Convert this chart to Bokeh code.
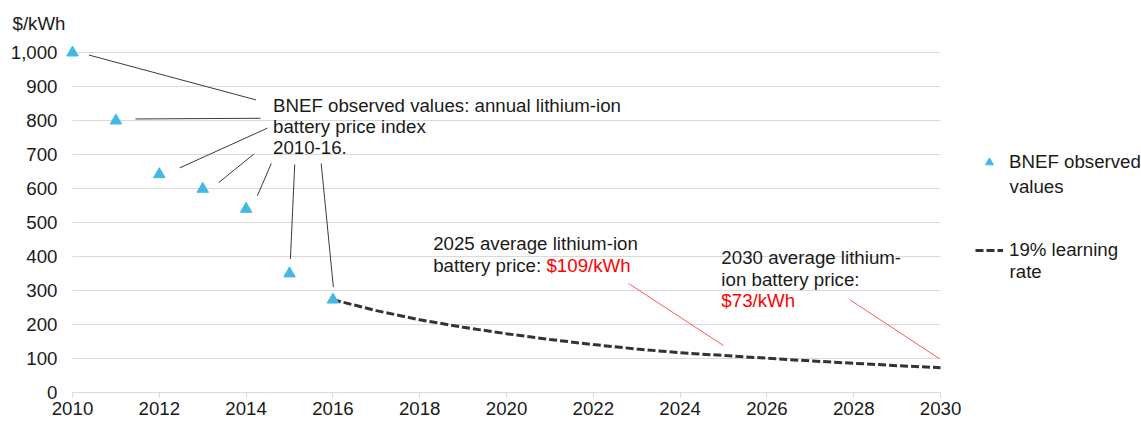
from bokeh.plotting import figure
from bokeh.models import (Range1d, NumeralTickFormatter, FixedTicker, Label, Legend,
                          LegendItem, Grid)
from bokeh.embed import file_html
from bokeh.resources import INLINE

# ---- data ----
obs_years = [2010, 2011, 2012, 2013, 2014, 2015, 2016]
obs_prices = [1000, 800, 642, 599, 540, 350, 273]

proj_years = [2016, 2017, 2018, 2019, 2020, 2021, 2022, 2023, 2024, 2025, 2026, 2027, 2028, 2029, 2030]
proj_prices = [273, 241, 214, 192, 173, 156, 141, 128, 117, 109, 101, 93, 86, 79, 73]

x_ticks = [2010, 2012, 2014, 2016, 2018, 2020, 2022, 2024, 2026, 2028, 2030]
y_ticks = [0, 100, 200, 300, 400, 500, 600, 700, 800, 900, 1000]

FONT = "Liberation Sans"
FS = "18.7px"
TXT = "#1a1a1a"
GRID = "#d9d9d9"
BLUE = "#44b8e2"
DARK = "#3a3a3a"
RED = "#ff0000"

# frame extends to the right edge so the legend area sits inside it;
# grid lines and the x axis are bounded to 2010-2030
p = figure(width=1141, height=423, output_backend="svg", toolbar_location=None,
           x_range=Range1d(2009.7, 2034.63), y_range=Range1d(0, 1030),
           min_border_left=59, min_border_right=0, min_border_top=42, min_border_bottom=31)
p.outline_line_color = None
p.background_fill_color = "white"
p.border_fill_color = "white"

# y-axis unit as a left-aligned title above the frame
p.title.text = "$/kWh"
p.title.align = "left"
p.title.offset = -47
p.title.standoff = 18
p.title.text_font = FONT
p.title.text_font_size = FS
p.title.text_font_style = "normal"
p.title.text_color = TXT

# grid
p.xgrid.grid_line_color = None
p.ygrid.grid_line_color = GRID
p.ygrid.grid_line_width = 1.2
p.ygrid.ticker = FixedTicker(ticks=y_ticks)
if "cross_bounds" in Grid.properties():
    p.ygrid.cross_bounds = (x_ticks[0], x_ticks[-1])

# axes
p.xaxis.ticker = FixedTicker(ticks=x_ticks)
p.xaxis.bounds = (x_ticks[0], x_ticks[-1])
p.xaxis.axis_line_color = GRID
p.xaxis.axis_line_width = 1.2
p.xaxis.major_tick_line_color = GRID
p.xaxis.major_tick_out = 5
p.xaxis.major_tick_in = 0
p.xaxis.minor_tick_line_color = None
p.xaxis.major_label_standoff = 4
p.xaxis.major_label_text_font = FONT
p.xaxis.major_label_text_font_size = FS
p.xaxis.major_label_text_color = TXT

p.yaxis.ticker = FixedTicker(ticks=y_ticks)
p.yaxis.formatter = NumeralTickFormatter(format="0,0")
p.yaxis.axis_line_color = None
p.yaxis.major_tick_line_color = None
p.yaxis.major_tick_out = 0
p.yaxis.major_tick_in = 0
p.yaxis.minor_tick_line_color = None
p.yaxis.major_label_standoff = 2
p.yaxis.major_label_text_font = FONT
p.yaxis.major_label_text_font_size = FS
p.yaxis.major_label_text_color = TXT

# leader lines (annotation geometry)
lead_x0 = [2010.38, 2011.45, 2012.47, 2013.37, 2014.26, 2015.02, 2016.01]
lead_y0 = [993, 805, 661, 618, 579, 393, 310]
lead_x1 = [2014.23, 2014.33, 2014.49, 2014.18, 2014.58, 2015.12, 2015.73]
lead_y1 = [861, 807, 778, 702, 674, 671, 674]
p.segment(x0=lead_x0, y0=lead_y0, x1=lead_x1, y1=lead_y1, line_color=DARK, line_width=1)

red_x0 = [2022.81, 2027.91]
red_y0 = [321, 273]
red_x1 = [2025.0, 2029.98]
red_y1 = [138, 99]
p.segment(x0=red_x0, y0=red_y0, x1=red_x1, y1=red_y1, line_color="#ff5a5a", line_width=1)

# series
r_proj = p.line(proj_years, proj_prices, line_color="#333333", line_width=3, line_dash="8 3")
r_obs = p.scatter(obs_years, obs_prices, marker="triangle", size=11.5,
                  fill_color=BLUE, line_color=BLUE)

# texts
def txt(x, y, s, color=TXT):
    p.add_layout(Label(x=x, y=y, text=s, text_font=FONT, text_font_size=FS,
                       text_color=color, text_baseline="alphabetic", text_align="left"))

txt(2014.62, 846, "BNEF observed values: annual lithium-ion")
txt(2014.62, 784, "battery price index")
txt(2014.62, 721, "2010-16.")
txt(2018.31, 438, "2025 average lithium-ion")
txt(2018.31, 375, "battery price: ")
txt(2020.92, 375, "$109/kWh", RED)
txt(2024.95, 397, "2030 average lithium-")
txt(2024.95, 334, "ion battery price:")
txt(2024.95, 272, "$73/kWh", RED)

# legend: first lines in the Legend, continuation lines as labels
legend = Legend(items=[LegendItem(label="BNEF observed", renderers=[r_obs]),
                       LegendItem(label="19% learning", renderers=[r_proj])],
                location=(916, 131), padding=0, spacing=66, glyph_width=28,
                glyph_height=20, label_height=22,
                label_standoff=6, border_line_color=None, background_fill_alpha=0,
                label_text_font=FONT, label_text_font_size=FS, label_text_color=TXT)
p.add_layout(legend)
txt(2031.59, 607, "values")
txt(2031.59, 357, "rate")

open("out.html", "w").write(file_html(p, INLINE))
